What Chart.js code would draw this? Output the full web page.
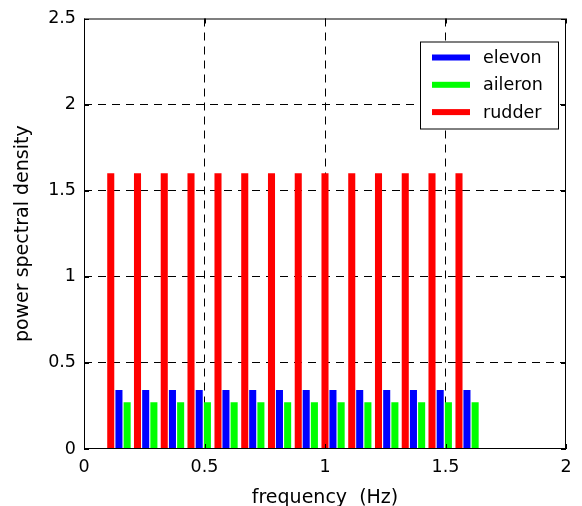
<!DOCTYPE html>
<html>
<head>
<meta charset="utf-8">
<script src="https://cdn.jsdelivr.net/npm/chart.js@4.4.0/dist/chart.umd.min.js"></script>
<style>
  html, body { margin: 0; padding: 0; background: #fff; }
</style>
</head>
<body>
<canvas id="psd" width="582" height="506"></canvas>
<script>
// bar positions (Hz)
const rudderFreq = [0.111, 0.222, 0.333, 0.444, 0.556, 0.667, 0.778, 0.889, 1.000, 1.111, 1.222, 1.333, 1.444, 1.556];
const elevonFreq = [0.145, 0.256, 0.367, 0.478, 0.589, 0.700, 0.811, 0.922, 1.033, 1.144, 1.256, 1.367, 1.478, 1.589];
const aileronFreq = [0.179, 0.290, 0.401, 0.512, 0.623, 0.734, 0.845, 0.956, 1.067, 1.178, 1.290, 1.401, 1.512, 1.623];

// power spectral density per bar
const rudderPsd = [1.6, 1.6, 1.6, 1.6, 1.6, 1.6, 1.6, 1.6, 1.6, 1.6, 1.6, 1.6, 1.6, 1.6];
const elevonPsd = [0.34, 0.34, 0.34, 0.34, 0.34, 0.34, 0.34, 0.34, 0.34, 0.34, 0.34, 0.34, 0.34, 0.34];
const aileronPsd = [0.27, 0.27, 0.27, 0.27, 0.27, 0.27, 0.27, 0.27, 0.27, 0.27, 0.27, 0.27, 0.27, 0.27];

const xTicks = [0, 0.5, 1, 1.5, 2];
const yTicks = [0, 0.5, 1, 1.5, 2, 2.5];

const seriesNames = ['elevon', 'aileron', 'rudder'];
const seriesColors = ['#0000ff', '#00ff00', '#ff0000'];

const toPoints = (xs, ys) => xs.map((x, i) => ({ x: x, y: ys[i] }));

const FONT = 'DejaVu Sans';

// matlab style box with inward ticks
const framePlugin = {
    id: 'frame',
    afterDatasetsDraw(chart) {
        const { ctx, chartArea: a, scales } = chart;
        const len = 5;
        ctx.save();
        ctx.strokeStyle = '#000';
        ctx.lineWidth = 1;
        ctx.setLineDash([]);
        ctx.strokeRect(a.left + 0.5, a.top + 0.5, a.right - a.left - 1, a.bottom - a.top - 1);
        ctx.beginPath();
        xTicks.forEach(v => {
            const px = Math.round(scales.x.getPixelForValue(v)) + 0.5;
            ctx.moveTo(px, a.bottom); ctx.lineTo(px, a.bottom - len);
            ctx.moveTo(px, a.top); ctx.lineTo(px, a.top + len);
        });
        yTicks.forEach(v => {
            const py = Math.round(scales.y.getPixelForValue(v)) + 0.5;
            ctx.moveTo(a.left, py); ctx.lineTo(a.left + len, py);
            ctx.moveTo(a.right, py); ctx.lineTo(a.right - len, py);
        });
        ctx.stroke();
        ctx.restore();
    }
};

// legend box in the upper right corner
const legendPlugin = {
    id: 'boxLegend',
    afterDraw(chart) {
        const ctx = chart.ctx;
        const a = chart.chartArea;
        const boxW = 138, boxH = 87;
        const x0 = a.right - 8 - boxW, y0 = a.top + 23;
        ctx.save();
        ctx.fillStyle = '#fff';
        ctx.fillRect(x0, y0, boxW, boxH);
        ctx.strokeStyle = '#000';
        ctx.lineWidth = 1;
        ctx.strokeRect(x0 + 0.5, y0 + 0.5, boxW, boxH);
        ctx.font = '17.5px "' + FONT + '"';
        ctx.textBaseline = 'middle';
        ctx.fillStyle = '#000';
        chart.data.datasets.forEach((ds, i) => {
            const ry = y0 + 16 + i * 27.3;
            ctx.fillStyle = ds.backgroundColor;
            ctx.fillRect(x0 + 12, ry - 3, 38, 6);
            ctx.fillStyle = '#000';
            ctx.fillText(ds.label, x0 + 63, ry + 1);
        });
        ctx.restore();
    }
};

const edgeClear = (lo, hi) => c => (c.tick && (c.tick.value === lo || c.tick.value === hi)) ? 'rgba(0,0,0,0)' : '#000';

new Chart(document.getElementById('psd'), {
    type: 'bar',
    data: {
        datasets: [
            { label: seriesNames[0], data: toPoints(elevonFreq, elevonPsd), backgroundColor: seriesColors[0] },
            { label: seriesNames[1], data: toPoints(aileronFreq, aileronPsd), backgroundColor: seriesColors[1] },
            { label: seriesNames[2], data: toPoints(rudderFreq, rudderPsd), backgroundColor: seriesColors[2] }
        ]
    },
    plugins: [framePlugin, legendPlugin],
    options: {
        responsive: false,
        animation: false,
        layout: { padding: { top: 17, right: 16, left: 0, bottom: 0 } },
        datasets: { bar: { grouped: false, barThickness: 6.4, borderWidth: 0 } },
        plugins: {
            legend: { display: false },
            tooltip: { enabled: false }
        },
        scales: {
            x: {
                type: 'linear',
                min: 0,
                max: 2,
                offset: false,
                afterFit: s => { s.height = 57; },
                afterBuildTicks: s => { s.ticks = xTicks.map(v => ({ value: v })); },
                ticks: { color: '#000', padding: 8, maxRotation: 0, font: { family: FONT, size: 17.5 }, callback: v => String(v) },
                grid: { offset: false, color: edgeClear(0, 2), lineWidth: 1, drawTicks: false },
                border: { display: false, dash: [8, 6] },
                title: { display: true, text: 'frequency  (Hz)', color: '#000', font: { family: FONT, size: 19, lineHeight: 1 }, padding: { top: 0, bottom: -2 } }
            },
            y: {
                min: 0,
                max: 2.5,
                afterFit: s => { s.width = 84; },
                afterBuildTicks: s => { s.ticks = yTicks.map(v => ({ value: v })); },
                ticks: { color: '#000', padding: 8, font: { family: FONT, size: 17.5 }, callback: v => String(v) },
                grid: { offset: false, color: edgeClear(0, 2.5), lineWidth: 1, drawTicks: false },
                border: { display: false, dash: [8, 6] },
                title: { display: true, text: 'power spectral density', color: '#000', font: { family: FONT, size: 19, lineHeight: 1 }, padding: { top: 14, bottom: 0 } }
            }
        }
    }
});
</script>
</body>
</html>
